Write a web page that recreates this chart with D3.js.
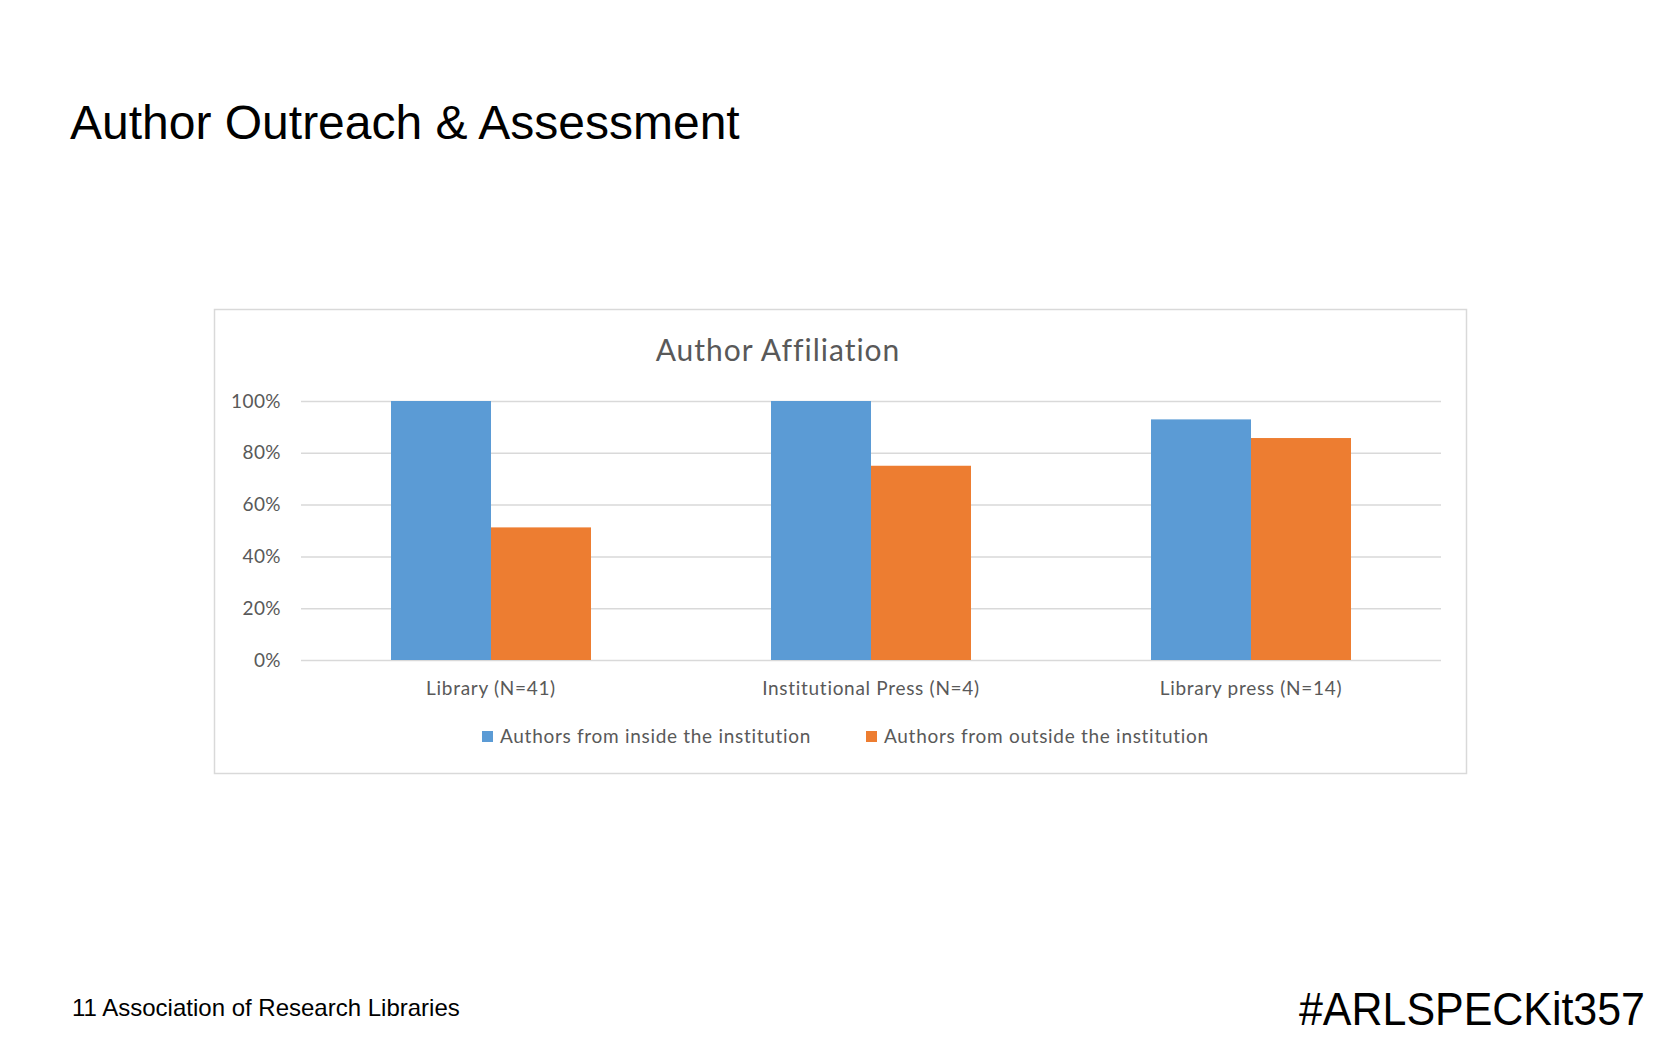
<!DOCTYPE html>
<html>
<head>
<meta charset="utf-8">
<script src="https://cdn.jsdelivr.net/npm/d3@7"></script>
<style>
  body { margin: 0; background: #fff; }
  svg { display: block; }
</style>
</head>
<body>
<div id="main-chart"></div>
<script>
const categories = ["Library (N=41)", "Institutional Press (N=4)", "Library press (N=14)"];
const seriesNames = ["Authors from inside the institution", "Authors from outside the institution"];
const insideValues = [1.0, 1.0, 0.929];
const outsideValues = [0.512, 0.75, 0.857];
const yTicks = [0, 0.2, 0.4, 0.6, 0.8, 1.0];
const colors = ["#5b9bd5", "#ed7d31"];

const width = 1680;
const height = 1050;
const plot = { left: 301, right: 1441, top: 401, bottom: 660 };
const chartFont = "Lato, sans-serif";

const svg = d3
  .select("#main-chart")
  .append("svg")
  .attr("width", width)
  .attr("height", height)
  .attr("viewBox", [0, 0, width, height]);

// slide title
svg
  .append("text")
  .attr("x", 70)
  .attr("y", 139)
  .attr("font-family", "Liberation Sans, Arial, sans-serif")
  .attr("font-size", 48)
  .attr("fill", "#000")
  .text("Author Outreach & Assessment");

// chart frame
svg
  .append("rect")
  .attr("x", 214.5)
  .attr("y", 309.5)
  .attr("width", 1252)
  .attr("height", 464)
  .attr("fill", "#fff")
  .attr("stroke", "#d9d9d9")
  .attr("stroke-width", 1.5);

svg
  .append("text")
  .attr("x", 778)
  .attr("y", 361)
  .attr("text-anchor", "middle")
  .attr("font-family", chartFont)
  .attr("font-size", 30)
  .attr("letter-spacing", 1)
  .attr("fill", "#595959")
  .text("Author Affiliation");

const x = d3
  .scaleBand()
  .domain(categories)
  .range([plot.left, plot.right])
  .paddingInner(0)
  .paddingOuter(0);

// gap width 180%: each bar is 1/3.8 of the category band
const xInner = d3
  .scaleBand()
  .domain(seriesNames)
  .range([0, x.bandwidth()])
  .paddingInner(0)
  .paddingOuter(0.9);

const y = d3.scaleLinear().domain([0, 1]).range([plot.bottom, plot.top]);

// y grid + labels
const yAxis = svg
  .append("g")
  .attr("transform", `translate(${plot.left}, 0)`)
  .call(
    d3
      .axisLeft(y)
      .tickValues(yTicks)
      .tickSize(-(plot.right - plot.left))
      .tickPadding(20)
      .tickFormat(d3.format(".0%"))
  );
yAxis.select(".domain").remove();
yAxis.selectAll(".tick line").attr("stroke", "#d9d9d9").attr("stroke-width", 1.5);
yAxis
  .selectAll(".tick text")
  .attr("font-family", chartFont)
  .attr("font-size", 19)
  .attr("letter-spacing", 0.4)
  .attr("fill", "#595959");

// bars
const rows = categories.map((c, i) => ({
  category: c,
  values: [insideValues[i], outsideValues[i]],
}));

const groups = svg
  .append("g")
  .selectAll("g")
  .data(rows)
  .join("g")
  .attr("transform", (d) => `translate(${x(d.category)}, 0)`);

groups
  .selectAll("rect")
  .data((d) => d.values.map((v, j) => ({ name: seriesNames[j], value: v, j: j })))
  .join("rect")
  .attr("x", (d) => xInner(d.name))
  .attr("y", (d) => y(d.value))
  .attr("width", xInner.bandwidth())
  .attr("height", (d) => y(0) - y(d.value))
  .attr("fill", (d) => colors[d.j]);

// x axis labels
const xAxis = svg
  .append("g")
  .attr("transform", `translate(0, ${plot.bottom})`)
  .call(d3.axisBottom(x).tickSize(0).tickPadding(22));
xAxis.select(".domain").remove();
xAxis
  .selectAll(".tick text")
  .attr("font-family", chartFont)
  .attr("font-size", 19)
  .attr("letter-spacing", 0.7)
  .attr("fill", "#595959");

// legend
const legendX = [482, 866];
const legend = svg
  .append("g")
  .selectAll("g")
  .data(seriesNames)
  .join("g")
  .attr("transform", (d, i) => `translate(${legendX[i]}, 737)`);

legend
  .append("rect")
  .attr("x", 0)
  .attr("y", -6)
  .attr("width", 11)
  .attr("height", 11)
  .attr("fill", (d, i) => colors[i]);

legend
  .append("text")
  .attr("x", 18)
  .attr("y", 6)
  .attr("font-family", chartFont)
  .attr("font-size", 19)
  .attr("letter-spacing", 0.7)
  .attr("fill", "#595959")
  .text((d) => d);

// footer
svg
  .append("text")
  .attr("x", 72)
  .attr("y", 1016)
  .attr("font-family", "Liberation Sans, Arial, sans-serif")
  .attr("font-size", 24)
  .attr("fill", "#000")
  .text("11 Association of Research Libraries");

svg
  .append("text")
  .attr("x", 1645)
  .attr("y", 1025)
  .attr("text-anchor", "end")
  .attr("font-family", "Liberation Sans, Arial, sans-serif")
  .attr("font-size", 46)
  .attr("textLength", 346)
  .attr("lengthAdjust", "spacingAndGlyphs")
  .attr("fill", "#000")
  .text("#ARLSPECKit357");
</script>
</body>
</html>
